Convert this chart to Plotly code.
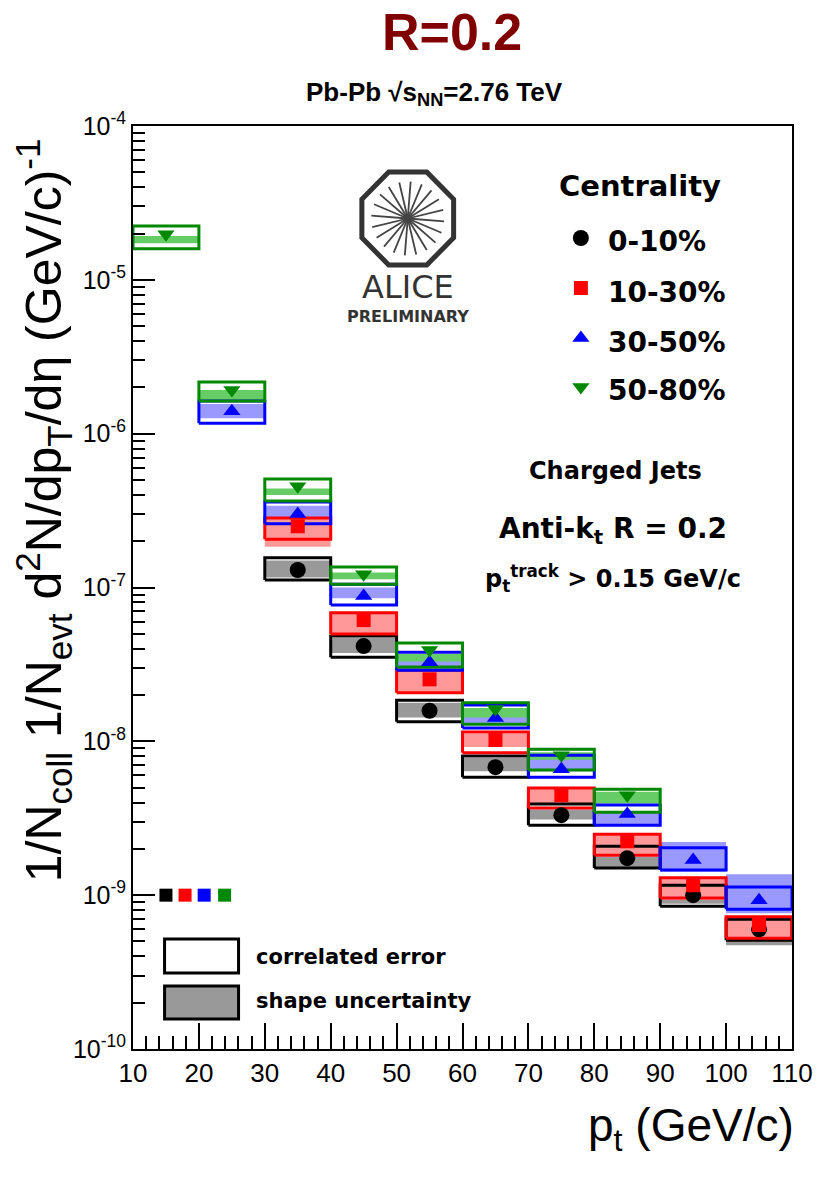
import math
import plotly.graph_objects as go

# ---------------- data ----------------
# 0-10 %
blk_x = [35, 45, 55, 65, 75, 85, 95, 105]
blk_y = [1.30e-7, 4.16e-8, 1.58e-8, 6.79e-9, 3.31e-9, 1.74e-9, 1.00e-9, 6.0e-10]
blk_corr_hi = [1.56e-7, 4.83e-8, 1.85e-8, 8.02e-9, 3.91e-9, 2.08e-9, 1.16e-9, 6.98e-10]
blk_corr_lo = [1.12e-7, 3.52e-8, 1.34e-8, 5.85e-9, 2.85e-9, 1.50e-9, 8.47e-10, 5.09e-10]
blk_shape_hi = [1.50e-7, 4.70e-8, 1.78e-8, 7.80e-9, 3.60e-9, 1.78e-9, 1.10e-9, 6.80e-10]
blk_shape_lo = [1.16e-7, 3.75e-8, 1.43e-8, 6.40e-9, 3.10e-9, 1.51e-9, 8.80e-10, 4.73e-10]

# 10-30 %
red_x = [35, 45, 55, 65, 75, 85, 95, 105]
red_y = [2.50e-7, 6.14e-8, 2.53e-8, 1.02e-8, 4.47e-9, 2.24e-9, 1.16e-9, 6.4e-10]
red_corr_hi = [2.83e-7, 6.86e-8, 2.90e-8, 1.15e-8, 4.97e-9, 2.49e-9, 1.30e-9, 7.23e-10]
red_corr_lo = [2.06e-7, 4.98e-8, 2.07e-8, 8.42e-9, 3.68e-9, 1.82e-9, 9.57e-10, 5.25e-10]
red_shape_hi = [2.83e-7, 6.80e-8, 2.90e-8, 1.12e-8, 4.90e-9, 2.45e-9, 1.28e-9, 7.20e-10]
red_shape_lo = [1.84e-7, 5.00e-8, 2.10e-8, 9.20e-9, 3.95e-9, 1.85e-9, 9.30e-10, 5.30e-10]

# 30-50 %
blu_x = [25, 35, 45, 55, 65, 75, 85, 95, 105]
blu_y = [1.40e-6, 3.00e-7, 8.80e-8, 3.27e-8, 1.42e-8, 6.59e-9, 3.37e-9, 1.69e-9, 9.27e-10]
blu_corr_hi = [1.63e-6, 3.59e-7, 1.05e-7, 3.80e-8, 1.72e-8, 8.13e-9, 3.85e-9, 2.03e-9, 1.13e-9]
blu_corr_lo = [1.17e-6, 2.60e-7, 7.69e-8, 2.90e-8, 1.22e-8, 5.85e-9, 2.85e-9, 1.46e-9, 8.11e-10]
blu_shape_hi = [1.56e-6, 3.40e-7, 1.00e-7, 3.60e-8, 1.50e-8, 7.80e-9, 3.50e-9, 2.22e-9, 1.37e-9]
blu_shape_lo = [1.26e-6, 2.80e-7, 8.50e-8, 2.90e-8, 1.30e-8, 6.40e-9, 2.90e-9, 1.42e-9, 7.64e-10]

# 50-80 %
grn_x = [15, 25, 35, 45, 55, 65, 75, 85]
grn_y = [1.98e-5, 1.92e-6, 4.56e-7, 1.22e-7, 3.92e-8, 1.62e-8, 8.13e-9, 4.47e-9]
grn_corr_hi = [2.24e-5, 2.17e-6, 5.07e-7, 1.36e-7, 4.35e-8, 1.78e-8, 8.89e-9, 4.89e-9]
grn_corr_lo = [1.59e-5, 1.63e-6, 3.65e-7, 1.05e-7, 3.04e-8, 1.29e-8, 6.50e-9, 3.46e-9]
grn_shape_hi = [1.93e-5, 1.92e-6, 4.40e-7, 1.25e-7, 3.70e-8, 1.65e-8, 8.50e-9, 4.70e-9]
grn_shape_lo = [1.73e-5, 1.66e-6, 4.00e-7, 1.13e-7, 3.30e-8, 1.43e-8, 7.60e-9, 3.95e-9]

# normalisation uncertainty squares
norm_x = [15.0, 17.9, 20.8, 23.9]
norm_y = [1.0e-9, 1.0e-9, 1.0e-9, 1.0e-9]

categories = ["0-10%", "10-30%", "30-50%", "50-80%"]
x_ticks = [10, 20, 30, 40, 50, 60, 70, 80, 90, 100, 110]
y_ticks = [1e-10, 1e-9, 1e-8, 1e-7, 1e-6, 1e-5, 1e-4]
y_ticktext = ["10<sup>-10</sup>", "10<sup>-9</sup>", "10<sup>-8</sup>", "10<sup>-7</sup>",
              "10<sup>-6</sup>", "10<sup>-5</sup>", "10<sup>-4</sup>"]

# ---------------- styling ----------------
BIN_HALF = 5
colors = ["#000000", "#ff0000", "#0000ff", "#008800"]
fills = ["#999999", "#ff9999", "#9999ff", "#66cc66"]
symbols = ["circle", "square", "triangle-up", "triangle-down"]
msizes = [16, 14, 15, 15]

series = [
    (blk_x, blk_y, blk_corr_lo, blk_corr_hi, blk_shape_lo, blk_shape_hi),
    (red_x, red_y, red_corr_lo, red_corr_hi, red_shape_lo, red_shape_hi),
    (blu_x, blu_y, blu_corr_lo, blu_corr_hi, blu_shape_lo, blu_shape_hi),
    (grn_x, grn_y, grn_corr_lo, grn_corr_hi, grn_shape_lo, grn_shape_hi),
]


def rects(xc, lo, hi):
    xs, ys = [], []
    for c, l, h in zip(xc, lo, hi):
        xs += [c - BIN_HALF, c + BIN_HALF, c + BIN_HALF, c - BIN_HALF, c - BIN_HALF, None]
        ys += [l, l, h, h, l, None]
    return xs, ys


fig = go.Figure()

# shape-uncertainty fills
for i, (xc, yv, clo, chi, slo, shi) in enumerate(series):
    xs, ys = rects(xc, slo, shi)
    fig.add_trace(go.Scatter(x=xs, y=ys, mode="lines", fill="toself",
                             fillcolor=fills[i], line=dict(width=0, color=fills[i]),
                             hoverinfo="skip", showlegend=False))
# correlated-error boxes
for i, (xc, yv, clo, chi, slo, shi) in enumerate(series):
    xs, ys = rects(xc, clo, chi)
    fig.add_trace(go.Scatter(x=xs, y=ys, mode="lines",
                             line=dict(width=3, color=colors[i]),
                             hoverinfo="skip", showlegend=False))
# points
for i, (xc, yv, clo, chi, slo, shi) in enumerate(series):
    fig.add_trace(go.Scatter(x=xc, y=yv, mode="markers", name=categories[i],
                             marker=dict(symbol=symbols[i], size=msizes[i], color=colors[i],
                                         opacity=1, line=dict(width=0)),
                             showlegend=False))
# normalisation squares
fig.add_trace(go.Scatter(x=norm_x, y=norm_y, mode="markers",
                         marker=dict(symbol="square", size=13, color=colors, opacity=1,
                                     line=dict(width=0)),
                         showlegend=False, hoverinfo="skip"))

# ---------------- decorations on a pixel-space overlay axis ----------------
L, R, T, B = 133, 801, 126, 1049
W, H = 825, 1178

# legend markers
leg_mx = [587, 587, 587, 587]
leg_my = [238, 288, 338, 387]
fig.add_trace(go.Scatter(x=leg_mx, y=leg_my, xaxis="x2", yaxis="y2", mode="markers",
                         marker=dict(symbol=symbols, size=msizes, color=colors, opacity=1,
                                     line=dict(width=0)),
                         showlegend=False, hoverinfo="skip", cliponaxis=False))

# ALICE logo spokes
cx, cy = 411.5, 218.5
sx, sy = [], []
nsp = 20
for k in range(nsp):
    a = 2 * math.pi * k / nsp + 0.08
    sx += [cx, cx + 37 * math.cos(a), None]
    sy += [cy, cy + 37 * math.sin(a), None]
fig.add_trace(go.Scatter(x=sx, y=sy, xaxis="x2", yaxis="y2", mode="lines",
                         line=dict(color="#444444", width=1.8),
                         showlegend=False, hoverinfo="skip"))

shapes = []
rr = 46.5 / math.cos(math.pi / 8)
pts = []
for k in range(8):
    a = math.pi / 8 + k * math.pi / 4
    pts.append((cx + rr * math.cos(a), cy + rr * math.sin(a)))
path = "M " + " L ".join(f"{px:.2f},{py:.2f}" for px, py in pts) + " Z"
shapes.append(dict(type="path", path=path, xref="x2", yref="y2",
                   line=dict(color="#333333", width=5), fillcolor="rgba(0,0,0,0)"))
shapes.append(dict(type="rect", xref="x2", yref="y2", x0=165, x1=240, y0=939, y1=973,
                   line=dict(color="black", width=3), fillcolor="white"))
shapes.append(dict(type="rect", xref="x2", yref="y2", x0=165, x1=240, y0=986, y1=1019,
                   line=dict(color="black", width=3), fillcolor="#999999"))

ARIAL = "Liberation Sans, Arial, sans-serif"
DEJA = "DejaVu Sans, sans-serif"
ann = []


def A(text, x, y, size, family=ARIAL, color="black", xanchor="center", angle=0):
    # positions given in page pixels, converted to paper fractions
    ann.append(dict(text=text, x=(x - L) / (R - L), y=(B - y) / (B - T),
                    xref="paper", yref="paper", showarrow=False,
                    xanchor=xanchor, yanchor="middle", textangle=angle,
                    font=dict(size=size, family=family, color=color)))


A("<b>R=0.2</b>", 456, 32, 52, color="#800000")
A("<b>Pb-Pb √s<sub>NN</sub>=2.76 TeV</b>", 439, 93, 26)
A("<b>Centrality</b>", 647, 186, 29, family=DEJA)
for txt, yy in zip(categories, [241, 292, 342, 390]):
    A(f"<b>{txt}</b>", 612, yy, 28, family=DEJA, xanchor="left")
A("<b>Charged Jets</b>", 622, 471, 24, family=DEJA)
A("<b>Anti-k<sub>t</sub> R = 0.2</b>", 620, 530, 28, family=DEJA)
A("<b>p<sub>t</sub><sup>track</sup> &gt; 0.15 GeV/c</b>", 620, 578, 24, family=DEJA)
A("ALICE", 411.5, 287, 32, family=DEJA, color="#333333")
A("<b>PRELIMINARY</b>", 411.5, 316, 16, family=DEJA, color="#333333")
A("<b>correlated error</b>", 256, 957, 21, family=DEJA, xanchor="left")
A("<b>shape uncertainty</b>", 256, 1001, 21, family=DEJA, xanchor="left")
A("1/N<sub>coll</sub> 1/N<sub>evt</sub> d<sup>2</sup>N/dp<sub>T</sub>/dη (GeV/c)<sup>-1</sup>",
  43, 510, 50, angle=-90)
A("p<sub>t</sub> (GeV/c)", 805, 1128, 46, xanchor="right")

fig.update_layout(
    width=W, height=H,
    margin=dict(l=L, r=W - R, t=T, b=H - B, pad=0),
    paper_bgcolor="white", plot_bgcolor="white",
    showlegend=False,
    shapes=shapes, annotations=ann,
    xaxis=dict(range=[10, 110], tickmode="array", tickvals=x_ticks,
               ticks="inside", ticklen=26, tickwidth=1.5, tickcolor="black",
               showline=True, linecolor="black", linewidth=2, mirror=True,
               showgrid=False, zeroline=False,
               tickfont=dict(family=ARIAL, size=26, color="black"),
               minor=dict(ticks="inside", ticklen=13, dtick=2, tick0=10,
                          tickcolor="black", tickwidth=1.5, showgrid=False)),
    yaxis=dict(type="log", range=[-10, -4], tickmode="array", tickvals=y_ticks,
               ticktext=y_ticktext,
               ticks="inside", ticklen=22, tickwidth=1.5, tickcolor="black",
               showline=True, linecolor="black", linewidth=2, mirror=True,
               showgrid=False, zeroline=False,
               tickfont=dict(family=ARIAL, size=25, color="black"),
               minor=dict(ticks="inside", ticklen=12, tickcolor="black", tickwidth=1.5,
                          tickmode="array",
                          tickvals=[d * 10.0 ** e for e in range(-10, -4) for d in range(2, 10)],
                          showgrid=False)),
    xaxis2=dict(range=[L, R], overlaying="x", visible=False, anchor="y2"),
    yaxis2=dict(range=[B, T], overlaying="y", visible=False, anchor="x2"),
)

fig.write_html("out.html")
